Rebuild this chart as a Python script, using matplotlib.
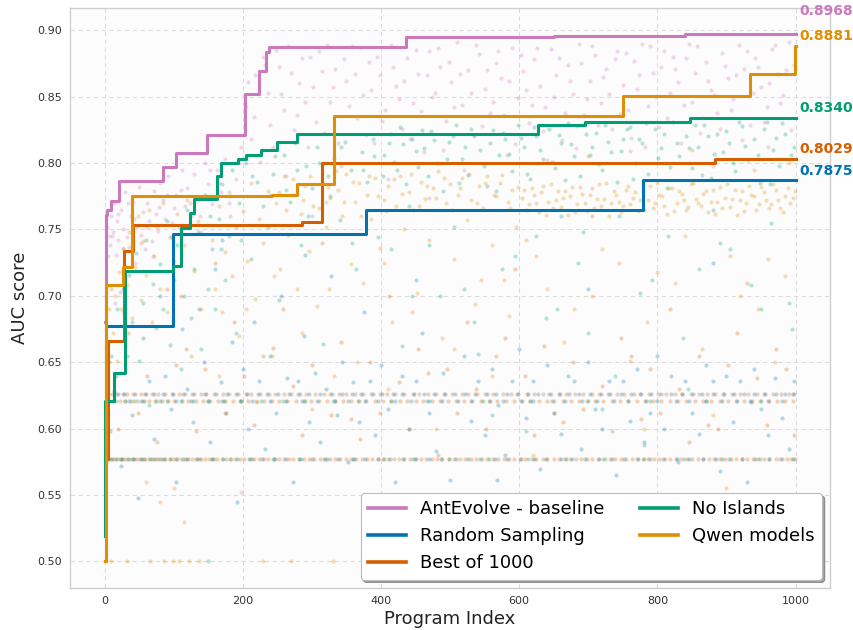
import matplotlib
matplotlib.use("Agg")
import matplotlib.pyplot as plt
import matplotlib.ticker as mticker

plt.rcParams['font.family'] = ['DejaVu Sans']

# ---------------------------------------------------------------
# Best-so-far AUC curves: (program index where the best improved, new best)
# ---------------------------------------------------------------
series_names = ["AntEvolve - baseline", "Random Sampling", "Best of 1000",
                "No Islands", "Qwen models"]
series_colors = ["#CC78BC", "#0173B2", "#D55E00", "#029E73", "#DE8F05"]

ant_step_x = [0, 2, 4, 10, 21, 84, 103, 148, 203, 224, 234, 238, 436, 651, 840, 1000]
ant_step_y = [0.680, 0.761, 0.765, 0.7717, 0.7867, 0.7974, 0.8079, 0.8214, 0.8517,
              0.8692, 0.8837, 0.8875, 0.8950, 0.8960, 0.8968, 0.8968]

rand_step_x = [0, 2, 99, 378, 779, 1000]
rand_step_y = [0.600, 0.6774, 0.7469, 0.7644, 0.7875, 0.7875]

best_step_x = [0, 5, 28, 41, 285, 314, 884, 1000]
best_step_y = [0.577, 0.6661, 0.7341, 0.7531, 0.7554, 0.8004, 0.8029, 0.8029]

noisl_step_x = [0, 1, 14, 29, 99, 111, 123, 129, 163, 168, 193, 205, 226, 250, 279,
                627, 696, 847, 1000]
noisl_step_y = [0.519, 0.621, 0.6418, 0.7190, 0.7224, 0.7512, 0.7625, 0.7729, 0.7899,
                0.8004, 0.8030, 0.8062, 0.8100, 0.8162, 0.8217, 0.8290, 0.8307,
                0.8340, 0.8340]

qwen_step_x = [0, 2, 27, 40, 243, 279, 332, 751, 934, 999, 1000]
qwen_step_y = [0.500, 0.7079, 0.7216, 0.7754, 0.7761, 0.7844, 0.8357, 0.8505, 0.8670,
               0.8881, 0.8881]

# ---------------------------------------------------------------
# Individual program scores: (program index, AUC)
# ---------------------------------------------------------------
ant_points = [
    (3, 0.752), (6, 0.745), (8, 0.738), (10, 0.760), (12, 0.748), (14, 0.770), (15, 0.695),
    (16, 0.731), (18, 0.756), (20, 0.742), (22, 0.703), (24, 0.765), (27, 0.750), (28, 0.688),
    (30, 0.778), (33, 0.744), (36, 0.737), (38, 0.760), (41, 0.771), (44, 0.725), (47, 0.752),
    (50, 0.782), (53, 0.746), (56, 0.763), (59, 0.735), (62, 0.770), (65, 0.756), (68, 0.741),
    (71, 0.779), (74, 0.762), (77, 0.749), (80, 0.785), (84, 0.772), (88, 0.758), (92, 0.790),
    (96, 0.744), (100, 0.766), (104, 0.776), (108, 0.752), (112, 0.795), (116, 0.768),
    (120, 0.781), (125, 0.760), (130, 0.792), (135, 0.773), (140, 0.748), (145, 0.800),
    (150, 0.784), (156, 0.769), (162, 0.795), (168, 0.778), (175, 0.803), (182, 0.760),
    (190, 0.788), (198, 0.812), (198, 0.552), (205, 0.842), (212, 0.818), (218, 0.866),
    (225, 0.801), (232, 0.874), (240, 0.829), (240, 0.776), (248, 0.885), (255, 0.852),
    (262, 0.790), (270, 0.868), (278, 0.836), (286, 0.879), (294, 0.812), (300, 0.760),
    (302, 0.857), (310, 0.884), (318, 0.823), (320, 0.771), (326, 0.846), (334, 0.871),
    (342, 0.798), (350, 0.862), (358, 0.888), (366, 0.834), (374, 0.851), (382, 0.876),
    (390, 0.815), (398, 0.866), (406, 0.840), (410, 0.788), (414, 0.889), (422, 0.858),
    (430, 0.826), (438, 0.879), (446, 0.845), (454, 0.867), (462, 0.808), (470, 0.884),
    (470, 0.774), (478, 0.853), (486, 0.872), (494, 0.832), (502, 0.861), (510, 0.891),
    (518, 0.844), (520, 0.795), (526, 0.870), (534, 0.820), (542, 0.882), (550, 0.856),
    (558, 0.838), (566, 0.875), (574, 0.864), (582, 0.806), (590, 0.887), (598, 0.849),
    (606, 0.869), (614, 0.830), (622, 0.878), (630, 0.858), (638, 0.842), (640, 0.802),
    (646, 0.886), (654, 0.866), (662, 0.817), (670, 0.874), (678, 0.852), (686, 0.890),
    (694, 0.836), (702, 0.862), (710, 0.881), (718, 0.845), (726, 0.871), (734, 0.826),
    (742, 0.884), (750, 0.859), (758, 0.840), (760, 0.809), (766, 0.877), (774, 0.866),
    (782, 0.812), (790, 0.888), (798, 0.850), (806, 0.872), (814, 0.834), (822, 0.880),
    (830, 0.861), (838, 0.844), (846, 0.890), (854, 0.868), (862, 0.823), (870, 0.876),
    (878, 0.855), (880, 0.798), (886, 0.838), (894, 0.883), (902, 0.864), (910, 0.848),
    (918, 0.889), (926, 0.871), (934, 0.829), (942, 0.879), (950, 0.857), (958, 0.842),
    (960, 0.812), (966, 0.886), (974, 0.867), (982, 0.851), (990, 0.891), (998, 0.874),
    (5, 0.730), (11, 0.745), (19, 0.762), (26, 0.736), (34, 0.770), (43, 0.758), (52, 0.740),
    (61, 0.752), (70, 0.730), (79, 0.767), (90, 0.776), (98, 0.755), (110, 0.780),
    (123, 0.770), (138, 0.760), (152, 0.795), (165, 0.785), (180, 0.770), (195, 0.800),
    (208, 0.861), (216, 0.835), (229, 0.880), (236, 0.853), (244, 0.812), (252, 0.872),
    (259, 0.840), (266, 0.888), (274, 0.825), (282, 0.860), (290, 0.846), (298, 0.880),
    (306, 0.831), (314, 0.869), (322, 0.889), (330, 0.857), (338, 0.815), (346, 0.878),
    (354, 0.843), (362, 0.867), (370, 0.887), (378, 0.821), (386, 0.855), (394, 0.880),
    (402, 0.832), (418, 0.872), (426, 0.848), (434, 0.862), (442, 0.818), (450, 0.885),
    (458, 0.839), (466, 0.866), (474, 0.850), (482, 0.887), (490, 0.810), (498, 0.876),
    (506, 0.842), (514, 0.867), (530, 0.853), (538, 0.889), (546, 0.828), (554, 0.870),
    (562, 0.846), (570, 0.884), (578, 0.836), (586, 0.862), (594, 0.814), (602, 0.881),
    (610, 0.855), (618, 0.844), (626, 0.887), (634, 0.824), (650, 0.850), (658, 0.879),
    (666, 0.838), (674, 0.862), (682, 0.811), (690, 0.875), (698, 0.848), (706, 0.888),
    (714, 0.829), (722, 0.865), (730, 0.852), (738, 0.878), (746, 0.837), (754, 0.883),
    (762, 0.819), (770, 0.856), (778, 0.890), (786, 0.843), (794, 0.868), (802, 0.827),
    (810, 0.884), (818, 0.853), (826, 0.871), (834, 0.815), (842, 0.879), (850, 0.846),
    (858, 0.888), (866, 0.834), (874, 0.862), (882, 0.851), (890, 0.826), (898, 0.873),
    (906, 0.840), (914, 0.866), (922, 0.817), (930, 0.884), (938, 0.853), (946, 0.872),
    (954, 0.831), (962, 0.860), (970, 0.889), (978, 0.845), (986, 0.870), (994, 0.825),
]

noisl_points = [
    (5, 0.612), (9, 0.655), (14, 0.628), (18, 0.690), (22, 0.642), (26, 0.705), (30, 0.668),
    (35, 0.716), (40, 0.680), (45, 0.732), (50, 0.651), (55, 0.695), (60, 0.742), (65, 0.618),
    (70, 0.709), (75, 0.676), (80, 0.724), (85, 0.690), (90, 0.756), (95, 0.663), (100, 0.712),
    (105, 0.738), (110, 0.645), (115, 0.700), (120, 0.765), (125, 0.683), (130, 0.720),
    (135, 0.748), (140, 0.660), (145, 0.776), (150, 0.705), (155, 0.735), (160, 0.690),
    (165, 0.758), (170, 0.784), (175, 0.712), (180, 0.745), (185, 0.795), (190, 0.672),
    (195, 0.770), (205, 0.800), (212, 0.728), (220, 0.786), (228, 0.810), (236, 0.752),
    (244, 0.792), (252, 0.697), (260, 0.806), (268, 0.771), (276, 0.815), (284, 0.738),
    (292, 0.798), (300, 0.781), (308, 0.812), (316, 0.664), (324, 0.790), (332, 0.804),
    (340, 0.757), (348, 0.816), (356, 0.795), (364, 0.720), (372, 0.808), (380, 0.786),
    (388, 0.818), (396, 0.744), (405, 0.806), (414, 0.822), (423, 0.795), (430, 0.662),
    (432, 0.814), (441, 0.768), (450, 0.809), (459, 0.825), (468, 0.790), (470, 0.738),
    (477, 0.817), (486, 0.700), (495, 0.803), (504, 0.820), (513, 0.785), (520, 0.705),
    (522, 0.812), (531, 0.826), (540, 0.656), (549, 0.798), (558, 0.815), (560, 0.610),
    (567, 0.779), (576, 0.823), (585, 0.807), (594, 0.730), (603, 0.819), (610, 0.598),
    (612, 0.792), (621, 0.827), (630, 0.810), (639, 0.683), (648, 0.801), (657, 0.821),
    (660, 0.760), (666, 0.787), (675, 0.814), (684, 0.828), (693, 0.748), (700, 0.672),
    (702, 0.806), (711, 0.823), (720, 0.795), (720, 0.615), (729, 0.816), (738, 0.640),
    (747, 0.809), (756, 0.826), (765, 0.788), (774, 0.818), (780, 0.588), (783, 0.830),
    (792, 0.712), (801, 0.804), (810, 0.822), (819, 0.797), (828, 0.815), (837, 0.668),
    (846, 0.811), (855, 0.829), (860, 0.720), (864, 0.791), (873, 0.820), (880, 0.765),
    (882, 0.807), (891, 0.740), (900, 0.824), (909, 0.800), (918, 0.831), (927, 0.813),
    (936, 0.620), (945, 0.806), (950, 0.690), (954, 0.826), (963, 0.784), (972, 0.819),
    (981, 0.830), (990, 0.695), (998, 0.812), (150, 0.500),
    (403, 0.790), (411, 0.815), (419, 0.801), (427, 0.827), (436, 0.784), (445, 0.818),
    (454, 0.797), (463, 0.811), (472, 0.824), (481, 0.800), (490, 0.779), (499, 0.816),
    (508, 0.829), (517, 0.803), (526, 0.791), (535, 0.821), (544, 0.810), (553, 0.783),
    (562, 0.825), (571, 0.806), (580, 0.818), (589, 0.794), (598, 0.829), (607, 0.812),
    (616, 0.788), (625, 0.820), (634, 0.803), (643, 0.826), (652, 0.796), (661, 0.815),
    (670, 0.830), (679, 0.805), (688, 0.790), (697, 0.822), (706, 0.812), (715, 0.799),
    (724, 0.829), (733, 0.808), (742, 0.786), (751, 0.818), (760, 0.827), (769, 0.800),
    (778, 0.815), (787, 0.792), (796, 0.826), (805, 0.811), (814, 0.781), (823, 0.831),
    (832, 0.805), (841, 0.820), (850, 0.796), (859, 0.812), (868, 0.829), (877, 0.789),
    (886, 0.822), (895, 0.808), (904, 0.815), (913, 0.794), (922, 0.828), (931, 0.802),
    (940, 0.818), (949, 0.785), (958, 0.831), (967, 0.810), (976, 0.798), (985, 0.822),
    (994, 0.806), (152, 0.760), (168, 0.735), (182, 0.775), (198, 0.742), (214, 0.790),
    (230, 0.768), (246, 0.805), (262, 0.780), (278, 0.795), (294, 0.760), (310, 0.800),
    (326, 0.775), (342, 0.812), (358, 0.740), (374, 0.795), (390, 0.805), (415, 0.735),
    (445, 0.700), (505, 0.752), (535, 0.680), (575, 0.720), (625, 0.745), (655, 0.690),
    (685, 0.725), (745, 0.760), (775, 0.702), (815, 0.745), (845, 0.630), (905, 0.735),
    (935, 0.708), (965, 0.755), (995, 0.675),
]

qwen_points = [
    (2, 0.500), (4, 0.620), (6, 0.690), (9, 0.705), (10, 0.500), (12, 0.672), (15, 0.700),
    (18, 0.651), (21, 0.718), (24, 0.690), (27, 0.735), (30, 0.662), (32, 0.500), (33, 0.708),
    (36, 0.748), (40, 0.683), (44, 0.722), (48, 0.760), (52, 0.697), (56, 0.741), (60, 0.716),
    (60, 0.560), (64, 0.765), (66, 0.500), (68, 0.680), (72, 0.730), (76, 0.752), (80, 0.705),
    (80, 0.545), (85, 0.770), (86, 0.500), (90, 0.688), (95, 0.744), (99, 0.500),
    (100, 0.726), (100, 0.555), (105, 0.762), (108, 0.500), (110, 0.700), (115, 0.738),
    (115, 0.530), (120, 0.772), (122, 0.500), (125, 0.655), (130, 0.719), (135, 0.756),
    (137, 0.500), (140, 0.690), (145, 0.775), (155, 0.742), (160, 0.705), (165, 0.768),
    (170, 0.688), (175, 0.733), (180, 0.778), (185, 0.715), (190, 0.752), (195, 0.670),
    (200, 0.764), (206, 0.726), (212, 0.785), (218, 0.698), (220, 0.620), (224, 0.758),
    (230, 0.740), (236, 0.779), (242, 0.655), (248, 0.770), (254, 0.720), (260, 0.790),
    (266, 0.746), (272, 0.776), (278, 0.705), (284, 0.762), (290, 0.783), (296, 0.734),
    (300, 0.615), (302, 0.768), (308, 0.692), (314, 0.786), (320, 0.752), (326, 0.774),
    (332, 0.640), (338, 0.780), (344, 0.760), (350, 0.792), (356, 0.724), (362, 0.771),
    (368, 0.785), (374, 0.710), (380, 0.776), (386, 0.758), (392, 0.789), (398, 0.736),
    (404, 0.772), (410, 0.783), (410, 0.630), (416, 0.680), (422, 0.768), (428, 0.790),
    (434, 0.750), (440, 0.778), (446, 0.765), (452, 0.702), (458, 0.786), (464, 0.773),
    (470, 0.742), (476, 0.781), (480, 0.600), (482, 0.794), (488, 0.668), (494, 0.770),
    (500, 0.784), (506, 0.728), (512, 0.776), (518, 0.789), (524, 0.757), (530, 0.772),
    (536, 0.694), (542, 0.783), (548, 0.766), (554, 0.790), (560, 0.738), (560, 0.640),
    (566, 0.775), (572, 0.785), (578, 0.712), (584, 0.771), (590, 0.780), (596, 0.752),
    (604, 0.774), (610, 0.742), (611, 0.765), (618, 0.781), (620, 0.580), (625, 0.770),
    (632, 0.778), (639, 0.761), (640, 0.705), (646, 0.784), (650, 0.800), (653, 0.772),
    (660, 0.767), (667, 0.779), (674, 0.775), (680, 0.690), (681, 0.763), (688, 0.782),
    (695, 0.770), (700, 0.805), (702, 0.776), (709, 0.766), (716, 0.784), (720, 0.735),
    (720, 0.550), (723, 0.773), (730, 0.760), (737, 0.779), (744, 0.771), (751, 0.768),
    (758, 0.783), (760, 0.651), (765, 0.774), (772, 0.764), (779, 0.780), (780, 0.600),
    (786, 0.772), (793, 0.766), (800, 0.785), (800, 0.718), (807, 0.775), (814, 0.762),
    (821, 0.781), (828, 0.770), (835, 0.777), (840, 0.745), (842, 0.765), (849, 0.784),
    (850, 0.810), (856, 0.773), (863, 0.768), (870, 0.779), (877, 0.771), (880, 0.610),
    (884, 0.762), (891, 0.782), (898, 0.774), (900, 0.555), (905, 0.767), (912, 0.780),
    (919, 0.772), (920, 0.700), (926, 0.764), (933, 0.783), (940, 0.775), (940, 0.795),
    (947, 0.769), (954, 0.778), (960, 0.728), (961, 0.766), (968, 0.784), (970, 0.650),
    (975, 0.772), (982, 0.763), (989, 0.781), (990, 0.800), (996, 0.774), (230, 0.500),
    (270, 0.500), (330, 0.500),
    (607, 0.780), (614, 0.769), (621, 0.776), (628, 0.763), (635, 0.783), (642, 0.771),
    (649, 0.766), (656, 0.779), (663, 0.774), (670, 0.761), (677, 0.782), (684, 0.769),
    (691, 0.777), (698, 0.764), (705, 0.781), (712, 0.773), (719, 0.768), (726, 0.785),
    (733, 0.770), (740, 0.776), (747, 0.763), (754, 0.780), (761, 0.769), (768, 0.778),
    (775, 0.772), (782, 0.765), (789, 0.783), (796, 0.770), (803, 0.776), (810, 0.768),
    (817, 0.781), (824, 0.764), (831, 0.779), (838, 0.772), (845, 0.767), (852, 0.785),
    (859, 0.770), (866, 0.777), (873, 0.763), (880, 0.780), (887, 0.771), (894, 0.766),
    (901, 0.784), (908, 0.773), (915, 0.761), (922, 0.779), (929, 0.770), (936, 0.776),
    (943, 0.765), (950, 0.782), (957, 0.772), (964, 0.769), (971, 0.780), (978, 0.766),
    (985, 0.775), (992, 0.770), (999, 0.779), (253, 0.778), (263, 0.765), (273, 0.788),
    (287, 0.772), (297, 0.790), (311, 0.766), (323, 0.782), (335, 0.794), (347, 0.771),
    (359, 0.786), (371, 0.760), (383, 0.790), (395, 0.775), (407, 0.764), (419, 0.788),
    (431, 0.777), (443, 0.792), (455, 0.768), (467, 0.783), (479, 0.774), (491, 0.789),
    (503, 0.765), (515, 0.781), (527, 0.792), (539, 0.770), (551, 0.785), (563, 0.776),
    (575, 0.791), (587, 0.766), (599, 0.782), (165, 0.640), (205, 0.690), (245, 0.715),
    (285, 0.672), (325, 0.705), (365, 0.650), (405, 0.725), (445, 0.688), (505, 0.660),
    (545, 0.712), (585, 0.685), (625, 0.730), (665, 0.665), (705, 0.700), (745, 0.725),
    (785, 0.680), (825, 0.710), (865, 0.660), (905, 0.730), (945, 0.690), (985, 0.715),
]

rand_points = [
    (8, 0.598), (16, 0.640), (24, 0.572), (32, 0.655), (40, 0.610), (48, 0.548), (56, 0.668),
    (64, 0.636), (72, 0.592), (80, 0.700), (88, 0.640), (96, 0.615), (104, 0.560),
    (112, 0.675), (120, 0.630), (128, 0.605), (136, 0.690), (144, 0.650), (152, 0.590),
    (160, 0.720), (168, 0.635), (170, 0.742), (176, 0.612), (184, 0.665), (192, 0.545),
    (200, 0.645), (208, 0.600), (216, 0.680), (224, 0.636), (232, 0.585), (240, 0.655),
    (248, 0.612), (256, 0.700), (264, 0.638), (272, 0.560), (280, 0.636), (288, 0.670),
    (290, 0.731), (296, 0.605), (304, 0.642), (312, 0.590), (320, 0.630), (328, 0.715),
    (336, 0.610), (344, 0.650), (352, 0.575), (360, 0.635), (368, 0.605), (376, 0.688),
    (384, 0.636), (392, 0.595), (400, 0.648), (410, 0.615), (420, 0.560), (430, 0.640),
    (440, 0.600), (450, 0.712), (450, 0.636), (460, 0.672), (470, 0.612), (480, 0.583),
    (490, 0.642), (500, 0.561), (510, 0.540), (520, 0.655), (530, 0.606), (540, 0.636),
    (550, 0.595), (560, 0.645), (568, 0.561), (570, 0.618), (580, 0.580), (590, 0.636),
    (600, 0.660), (610, 0.608), (620, 0.636), (630, 0.570), (640, 0.648), (650, 0.612),
    (660, 0.596), (670, 0.640), (680, 0.636), (690, 0.585), (700, 0.650), (700, 0.705),
    (710, 0.615), (720, 0.600), (730, 0.636), (740, 0.565), (750, 0.636), (760, 0.606),
    (770, 0.645), (780, 0.590), (790, 0.612), (800, 0.655), (810, 0.600), (820, 0.640),
    (830, 0.575), (840, 0.636), (850, 0.612), (860, 0.596), (870, 0.648), (880, 0.725),
    (880, 0.636), (890, 0.568), (900, 0.640), (910, 0.605), (920, 0.636), (930, 0.560),
    (940, 0.645), (950, 0.615), (960, 0.595), (970, 0.638), (980, 0.608), (990, 0.585),
    (998, 0.636), (390, 0.500),
]

best_points = [
    (6, 0.650), (20, 0.600), (34, 0.672), (48, 0.612), (62, 0.640), (76, 0.590), (90, 0.705),
    (104, 0.648), (118, 0.660), (132, 0.598), (146, 0.645), (160, 0.725), (174, 0.612),
    (188, 0.680), (202, 0.640), (216, 0.603), (230, 0.655), (244, 0.661), (258, 0.690),
    (272, 0.632), (286, 0.595), (300, 0.648), (314, 0.740), (328, 0.610), (342, 0.665),
    (356, 0.607), (370, 0.592), (384, 0.650), (398, 0.612), (412, 0.700), (426, 0.635),
    (440, 0.600), (454, 0.660), (468, 0.642), (482, 0.580), (496, 0.645), (510, 0.612),
    (524, 0.680), (538, 0.630), (552, 0.600), (566, 0.655), (580, 0.668), (594, 0.720),
    (608, 0.640), (622, 0.595), (636, 0.662), (650, 0.612), (664, 0.605), (678, 0.650),
    (692, 0.615), (706, 0.760), (720, 0.632), (734, 0.598), (748, 0.668), (762, 0.655),
    (776, 0.607), (790, 0.645), (804, 0.612), (818, 0.690), (832, 0.630), (846, 0.590),
    (860, 0.655), (874, 0.603), (888, 0.600), (902, 0.648), (916, 0.672), (930, 0.710),
    (944, 0.638), (958, 0.603), (972, 0.660), (986, 0.645), (998, 0.595),
]

# Programs that repeat the same score form flat rows of dots
row_high_y = 0.626
row_low_y = 0.621
row_floor_y = 0.577

best_row_high_x = [3, 11, 17, 26, 33, 41, 52, 60, 69, 77, 88, 97, 108, 116, 127, 139, 147,
                   158, 171, 180, 193, 204, 212, 225, 238, 247, 259, 270, 283, 292, 305,
                   318, 326, 339, 350, 362, 374, 385, 398, 409, 421, 433, 446, 455, 468,
                   480, 491, 503, 517, 526, 539, 551, 562, 576, 588, 597, 611, 622, 634,
                   646, 659, 668, 681, 693, 705, 716, 729, 741, 752, 766, 777, 788, 801,
                   812, 825, 836, 848, 861, 872, 884, 895, 908, 919, 931, 944, 955, 967,
                   979, 990, 998]
best_row_low_x = [7, 14, 22, 30, 38, 47, 56, 64, 73, 83, 92, 101, 112, 121, 133, 143, 152,
                  164, 175, 186, 198, 208, 219, 231, 242, 253, 264, 277, 288, 299, 311,
                  322, 333, 345, 356, 368, 379, 391, 403, 414, 427, 438, 450, 461, 474,
                  485, 497, 509, 520, 532, 545, 556, 568, 581, 592, 604, 616, 628, 640,
                  651, 663, 675, 687, 698, 710, 722, 734, 746, 758, 770, 782, 794, 806,
                  818, 830, 842, 855, 866, 878, 890, 902, 914, 925, 937, 949, 961, 973,
                  985, 996]
rand_row_high_x = [5, 19, 28, 44, 58, 71, 85, 99, 114, 130, 145, 161, 177, 190, 206, 222,
                   235, 251, 267, 280, 296, 312, 329, 343, 358, 371, 388, 402, 417, 431,
                   448, 462, 477, 493, 507, 522, 536, 553, 567, 582, 599, 613, 627, 643,
                   657, 672, 686, 702, 718, 731, 747, 762, 775, 791, 806, 820, 835, 851,
                   865, 880, 896, 911, 926, 940, 956, 971, 985, 997]
rand_row_low_x = [12, 35, 53, 80, 104, 125, 149, 170, 196, 214, 240, 262, 286, 307, 334,
                  353, 377, 396, 421, 443, 466, 488, 512, 530, 558, 577, 602, 620, 647,
                  666, 691, 712, 737, 757, 784, 800, 827, 846, 870, 893, 915, 934, 960,
                  981]
noisl_row_low_x = [4, 16, 29, 43, 57, 74, 91, 110, 128, 150, 173, 197, 226, 258, 290, 330,
                   367, 415, 470, 548, 615, 700, 790, 870, 950]

best_floor_x = [5, 9, 13, 18, 22, 27, 31, 36, 41, 45, 50, 54, 59, 64, 68, 74, 78, 83, 88,
                94, 99, 105, 110, 116, 121, 127, 134, 139, 145, 151, 158, 163, 170, 176,
                183, 189, 196, 202, 210, 216, 223, 231, 237, 245, 252, 259, 267, 273, 281,
                289, 296, 303, 312, 319, 326, 334, 341, 350, 357, 364, 372, 380, 387, 395,
                403, 410, 419, 426, 434, 442, 449, 458, 465, 474, 481, 489, 498, 505, 514,
                521, 530, 537, 546, 553, 562, 569, 578, 586, 593, 602, 609, 618, 625, 634,
                641, 650, 657, 666, 673, 682, 689, 698, 705, 714, 722, 731, 738, 747, 754,
                763, 770, 779, 787, 795, 802, 811, 818, 827, 834, 843, 850, 859, 866, 875,
                882, 891, 898, 907, 914, 923, 930, 939, 946, 955, 962, 971, 978, 987, 994,
                999]
rand_floor_x = [11, 24, 39, 52, 71, 86, 103, 119, 137, 155, 172, 192, 209, 228, 246, 263,
                284, 300, 322, 338, 359, 377, 396, 413, 432, 451, 470, 487, 508, 526, 544,
                565, 583, 601, 622, 639, 660, 677, 696, 715, 735, 752, 772, 790, 808, 829,
                846, 866, 885, 904, 922, 942, 961, 980, 997]
noisl_floor_x = [7, 16, 25, 34, 43, 57, 66, 80, 95, 113, 132, 156, 181, 213, 244, 282, 318,
                 361, 405, 447, 498, 556, 613, 668, 724, 781, 838, 893, 948]

# ---------------------------------------------------------------
# Figure
# ---------------------------------------------------------------
fig = plt.figure(figsize=(8.54, 6.30), dpi=100)
ax = fig.add_axes([0.082, 0.067, 0.890, 0.920])
ax.set_facecolor("#fcfcfc")
for side in ax.spines.values():
    side.set_color("#cfcfcf")
    side.set_linewidth(1.0)
ax.grid(True, linestyle=(0, (4, 3)), color="#dcdcdc", linewidth=0.8)
ax.set_axisbelow(True)

dot_style = dict(s=9, alpha=0.28, linewidths=0, zorder=2)

point_sets = [ant_points, rand_points, best_points, noisl_points, qwen_points]
for pts, col in zip(point_sets, series_colors):
    xs = [p[0] for p in pts]
    ys = [p[1] for p in pts]
    ax.scatter(xs, ys, color=col, **dot_style)

rows = [
    (best_row_high_x, row_high_y, series_colors[2]),
    (best_row_low_x, row_low_y, series_colors[2]),
    (rand_row_high_x, row_high_y, series_colors[1]),
    (rand_row_low_x, row_low_y, series_colors[1]),
    (noisl_row_low_x, row_low_y, series_colors[3]),
    (best_floor_x, row_floor_y, series_colors[2]),
    (rand_floor_x, row_floor_y, series_colors[1]),
    (noisl_floor_x, row_floor_y, series_colors[3]),
]
for xs, yv, col in rows:
    ax.scatter(xs, [yv] * len(xs), color=col, **dot_style)

step_sets = [
    (ant_step_x, ant_step_y),
    (rand_step_x, rand_step_y),
    (best_step_x, best_step_y),
    (noisl_step_x, noisl_step_y),
    (qwen_step_x, qwen_step_y),
]
for (sx, sy), name, col in zip(step_sets, series_names, series_colors):
    ax.plot(sx, sy, drawstyle="steps-post", color=col, linewidth=2.2,
            label=name, zorder=4)

# final best score printed at the right end of each curve
label_lift = [17, 6, 7, 7, 7]
for (sx, sy), col, lift in zip(step_sets, series_colors, label_lift):
    ax.annotate(f"{sy[-1]:.4f}", xy=(sx[-1], sy[-1]), xytext=(2.5, lift),
                textcoords="offset points", ha="left", va="center",
                color=col, fontsize=10, fontweight="bold", annotation_clip=False)

ax.set_xlim(-50, 1050)
ax.set_ylim(0.4802, 0.9166)
ax.set_xticks([0, 200, 400, 600, 800, 1000])
ax.set_yticks([0.50, 0.55, 0.60, 0.65, 0.70, 0.75, 0.80, 0.85, 0.90])
ax.yaxis.set_major_formatter(mticker.FormatStrFormatter("%.2f"))
ax.tick_params(axis="both", labelsize=8, colors="#333333", length=0, pad=6)
ax.set_xlabel("Program Index", fontsize=13, color="#222222", labelpad=3)
ax.set_ylabel("AUC score", fontsize=13, color="#222222", labelpad=6)

leg = ax.legend(loc="lower right", ncol=2, fontsize=13, frameon=True, shadow=True,
                fancybox=True, framealpha=1.0, edgecolor="#bbbbbb",
                handlelength=2.1, columnspacing=1.95, borderaxespad=0.45)
leg.get_frame().set_linewidth(0.8)
for line in leg.get_lines():
    line.set_linewidth(2.6)

fig.savefig("out.png", dpi=100, facecolor="white")
